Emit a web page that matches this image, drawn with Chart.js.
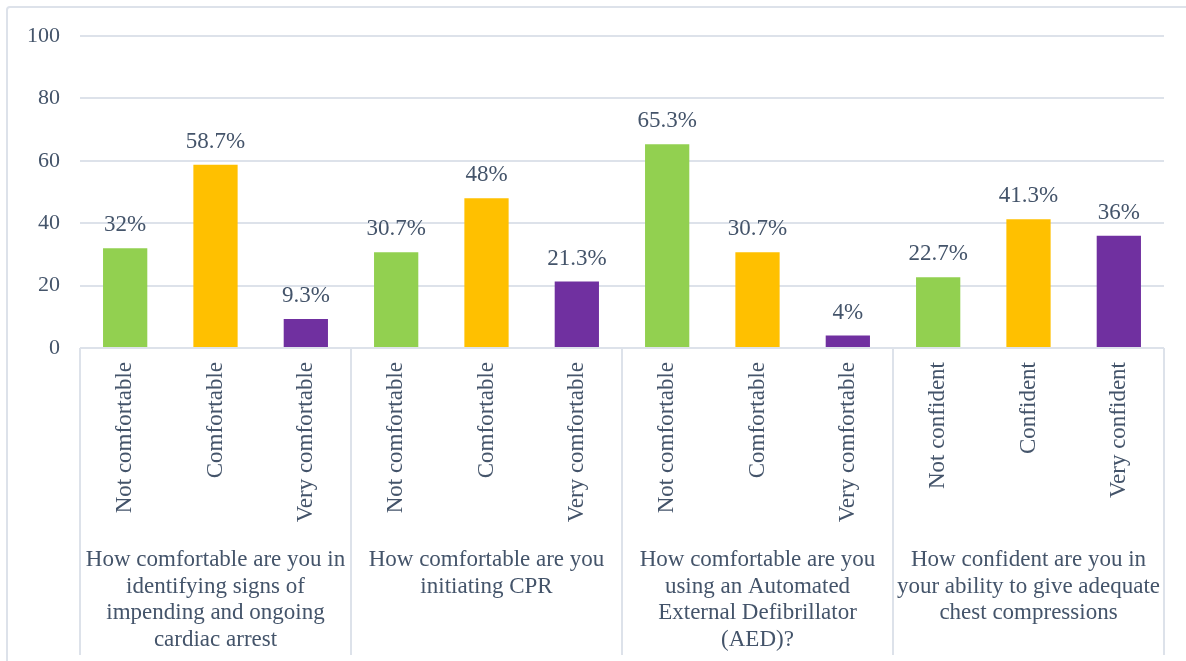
<!DOCTYPE html>
<html>
<head>
<meta charset="utf-8">
<script src="https://cdn.jsdelivr.net/npm/chart.js@4"></script>
<style>
    html, body { margin: 0; padding: 0; background: #ffffff; overflow: hidden; }
    #wrap { position: relative; width: 1186px; height: 661px; }
    #frame {
        position: absolute; left: 6px; top: 6px; width: 1200px; height: 700px;
        border: 2px solid #dde2ea; border-radius: 4px; box-sizing: border-box;
    }
    canvas { position: absolute; left: 0; top: 0; }
</style>
</head>
<body>
<div id="wrap">
    <div id="frame"></div>
    <canvas id="surveyChart" width="1186" height="661"></canvas>
</div>
<script>
// Answer options, one per bar
const answers = [
    'Not comfortable', 'Comfortable', 'Very comfortable',
    'Not comfortable', 'Comfortable', 'Very comfortable',
    'Not comfortable', 'Comfortable', 'Very comfortable',
    'Not confident', 'Confident', 'Very confident'
];

// Percent of respondents per answer
const percentages = [32, 58.7, 9.3, 30.7, 48, 21.3, 65.3, 30.7, 4, 22.7, 41.3, 36];

// Survey questions, each covering three answers
const questions = [
    ['How comfortable are you in', 'identifying signs of', 'impending and ongoing', 'cardiac arrest'],
    ['How comfortable are you', 'initiating CPR'],
    ['How comfortable are you', 'using an Automated', 'External Defibrillator', '(AED)?'],
    ['How confident are you in', 'your ability to give adequate', 'chest compressions']
];

const yTicks = [0, 20, 40, 60, 80, 100];

const levelColors = ['#92d050', '#ffc000', '#7030a0'];
const textColor = '#44546a';
const lineColor = '#dde2ea';
const fontFamily = '"Liberation Serif", "Times New Roman", serif';

// value labels above bars, question labels and separators under the axis
const surveyLabels = {
    id: 'surveyLabels',
    afterDatasetsDraw(chart) {
        const ctx = chart.ctx;
        const meta = chart.getDatasetMeta(0);
        ctx.save();
        ctx.fillStyle = textColor;
        ctx.font = '23px ' + fontFamily;
        ctx.textAlign = 'center';
        ctx.textBaseline = 'middle';
        meta.data.forEach((bar, i) => {
            ctx.fillText(percentages[i] + '%', bar.x, bar.y - 23);
        });
        ctx.restore();
    },
    afterDraw(chart) {
        const ctx = chart.ctx;
        const x = chart.scales.x;
        const yBase = chart.scales.y.getPixelForValue(0);
        const perGroup = answers.length / questions.length;
        const groupWidth = x.width / questions.length;

        ctx.save();
        ctx.strokeStyle = lineColor;
        ctx.lineWidth = 2;
        for (let g = 0; g <= questions.length; g++) {
            const px = Math.round(x.left + g * groupWidth);
            ctx.beginPath();
            ctx.moveTo(px, yBase);
            ctx.lineTo(px, 655);
            ctx.stroke();
        }

        ctx.fillStyle = textColor;
        ctx.font = '23px ' + fontFamily;
        ctx.textAlign = 'center';
        ctx.textBaseline = 'middle';
        questions.forEach((lines, g) => {
            const first = g * perGroup;
            const cx = (x.getPixelForValue(first) + x.getPixelForValue(first + perGroup - 1)) / 2;
            lines.forEach((line, k) => {
                ctx.fillText(line, cx, yBase + 212 + k * 26.7);
            });
        });
        ctx.restore();
    }
};

new Chart(document.getElementById('surveyChart'), {
    type: 'bar',
    data: {
        labels: answers,
        datasets: [{
            data: percentages,
            backgroundColor: answers.map((a, i) => levelColors[i % 3]),
            categoryPercentage: 1,
            barPercentage: 0.49
        }]
    },
    options: {
        responsive: false,
        animation: false,
        layout: { padding: { top: 36, right: 22, left: 0, bottom: 0 } },
        plugins: {
            legend: { display: false },
            tooltip: { enabled: false }
        },
        scales: {
            x: {
                grid: { display: false },
                border: { display: false },
                afterFit(scale) { scale.height = 313; },
                ticks: {
                    color: textColor,
                    font: { family: fontFamily, size: 23 },
                    minRotation: 90,
                    maxRotation: 90,
                    padding: 6,
                    autoSkip: false
                }
            },
            y: {
                min: 0,
                max: 100,
                afterFit(scale) { scale.width = 80; },
                afterBuildTicks(scale) { scale.ticks = yTicks.map(v => ({ value: v })); },
                grid: { color: lineColor, lineWidth: 2, drawTicks: false },
                border: { display: false },
                ticks: {
                    color: textColor,
                    font: { family: fontFamily, size: 22 },
                    padding: 20
                }
            }
        }
    },
    plugins: [surveyLabels]
});
</script>
</body>
</html>
